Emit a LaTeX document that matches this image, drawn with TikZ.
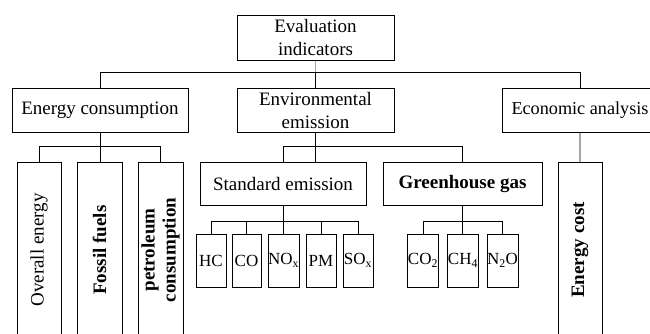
\documentclass[tikz,border=0pt]{standalone}
\usepackage{fontspec}
\setmainfont{Liberation Serif}
\usetikzlibrary{positioning}

\tikzset{
  box/.style={draw=black, line width=1pt, inner sep=0pt, align=center,
    font=\fontsize{19}{23}\selectfont},
  gasbox/.style={box, minimum width=30, minimum height=53,
    font=\fontsize{17}{20}\selectfont},
  tallbox/.style={box, rotate=90, minimum width=176, minimum height=44},
  link/.style={draw=black, line width=1pt},
  palelink/.style={draw=black!35, line width=1.2pt}
}

\begin{document}
\begin{tikzpicture}[x=1pt,y=-1pt]
			\useasboundingbox (0,0) rectangle (650,333);
			\clip (0,0) rectangle (650,333);

			% top
			\node[box, minimum width=157, minimum height=45] (eval) at (315.5,37.5) {Evaluation\\indicators};

			% second level
			\node[box, minimum width=176, minimum height=44] (energy) at (100,110) {Energy consumption};
			\node[box, minimum width=157, minimum height=44] (env) at (315.5,110) {Environmental\\emission};
			\node[box, minimum width=156, minimum height=44, font=\fontsize{18.2}{22}\selectfont] (econ) at (580,110) {Economic analysis};

			% energy consumption leaves
			\node[tallbox] (overall) at (39,250) {Overall energy};
			\node[tallbox, minimum height=45, font=\fontsize{19}{23}\selectfont\bfseries] (fossil) at (99.5,250) {Fossil fuels};
			\node[tallbox, minimum height=45, font=\fontsize{19}{21}\selectfont\bfseries] (petrol) at (160.5,250) {petroleum\\consumption};

			% emission groups
			\node[box, minimum width=166, minimum height=43] (std) at (283,183.5) {Standard emission};
			\node[box, minimum width=159, minimum height=43, font=\fontsize{19}{23}\selectfont\bfseries] (green) at (462.5,183.5) {Greenhouse gas};

			\node[gasbox] (hc) at (211,260.5) {HC};
			\node[gasbox, minimum width=29] (co) at (246.5,260.5) {CO};
			\node[gasbox, minimum width=31] (nox) at (283.5,260.5) {NO\textsubscript{x}};
			\node[gasbox] (pm) at (321,260.5) {PM};
			\node[gasbox] (sox) at (358,260.5) {SO\textsubscript{x}};

			\node[gasbox] (co2) at (423,260.5) {CO\textsubscript{2}};
			\node[gasbox] (ch4) at (463,260.5) {CH\textsubscript{4}};
			\node[gasbox, minimum width=29] (n2o) at (502.5,260.5) {N\textsubscript{2}O};

			% economic leaf
			\node[tallbox, font=\fontsize{19}{23}\selectfont\bfseries] (cost) at (580,250) {Energy cost};

			% connectors
			\draw[palelink] (eval.south) -- (env.north);
			\draw[link] (energy.north) -- ++(0,-15) -| (econ.north);
			\draw[link] (env.north) -- ++(0,-15);

			\draw[link] (energy.south) -- (energy.south |- fossil.east);
			\draw[link] (overall.east) -- ++(0,-15) -| (petrol.east);

			\draw[link] (env.south) -- (env.south |- std.north);
			\draw[link] (std.north) -- ++(0,-15) -| (green.north);

			\draw[link] (std.south) -- (std.south |- nox.north);
			\draw[link] (hc.north) -- ++(0,-12) -| (sox.north);
			\foreach \g in {co,pm}
				\draw[link] (\g.north) -- ++(0,-12);

			\draw[link] (green.south) -- (green.south |- ch4.north);
			\draw[link] (co2.north) -- ++(0,-12) -| (n2o.north);

			\draw[palelink] (econ.south) -- (cost.east);
		\end{tikzpicture}
\end{document}
